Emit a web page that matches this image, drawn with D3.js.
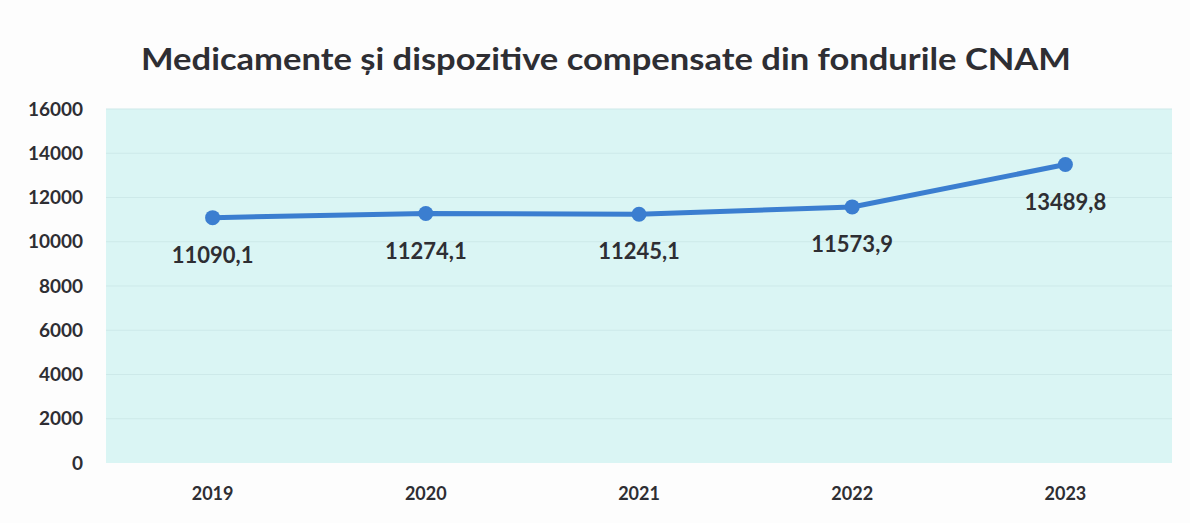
<!DOCTYPE html>
<html>
<head>
<meta charset="utf-8">
<script src="https://cdn.jsdelivr.net/npm/d3@7"></script>
<style>
  body { margin: 0; background: #fdfdfd; }
  text { font-family: Lato, "Open Sans", sans-serif; font-weight: bold; fill: #2e2e33; }
</style>
</head>
<body>
<div id="chart"></div>
<script>
var years = ["2019", "2020", "2021", "2022", "2023"];
var values = [11090.1, 11274.1, 11245.1, 11573.9, 13489.8];
var labels = ["11090,1", "11274,1", "11245,1", "11573,9", "13489,8"];
var yTicks = [0, 2000, 4000, 6000, 8000, 10000, 12000, 14000, 16000];

var width = 1190,
    height = 523;
var margin = { top: 109, right: 18, bottom: 60, left: 106 };

var svg = d3.select("#chart")
  .append("svg")
    .attr("width", width)
    .attr("height", height);

var x = d3.scaleBand()
  .domain(years)
  .range([margin.left, width - margin.right]);

var y = d3.scaleLinear()
  .domain([0, 16000])
  .range([height - margin.bottom, margin.top]);

// plot background
svg.append("rect")
  .attr("x", margin.left)
  .attr("y", margin.top)
  .attr("width", width - margin.left - margin.right)
  .attr("height", height - margin.top - margin.bottom)
  .attr("fill", "#daf5f4");

// faint gridlines
svg.append("g")
  .selectAll("line")
  .data(yTicks.slice(1))
  .enter()
    .append("line")
    .attr("x1", margin.left)
    .attr("x2", width - margin.right)
    .attr("y1", function(d) { return y(d); })
    .attr("y2", function(d) { return y(d); })
    .attr("stroke", "#cde9e9")
    .attr("stroke-width", 1);

// title
svg.append("text")
  .attr("x", 606)
  .attr("y", 70)
  .attr("text-anchor", "middle")
  .attr("font-size", "31px")
  .attr("textLength", 930)
  .attr("lengthAdjust", "spacingAndGlyphs")
  .text("Medicamente și dispozitive compensate din fondurile CNAM");

// y axis
var yAxis = d3.axisLeft(y)
  .tickValues(yTicks)
  .tickFormat(d3.format("d"))
  .tickSize(0)
  .tickPadding(23);

svg.append("g")
  .attr("class", "y-axis")
  .attr("transform", "translate(" + margin.left + ",0)")
  .call(yAxis)
  .call(function(g) { g.select(".domain").remove(); })
  .selectAll(".tick text")
    .attr("font-size", "19px")
    .attr("font-family", "Lato, sans-serif")
    .attr("fill", "#2e2e33");

// x axis
var xAxis = d3.axisBottom(x).tickSize(0).tickPadding(24);

svg.append("g")
  .attr("class", "x-axis")
  .attr("transform", "translate(0," + (height - margin.bottom) + ")")
  .call(xAxis)
  .call(function(g) { g.select(".domain").remove(); })
  .selectAll(".tick text")
    .attr("font-size", "18px")
    .attr("font-family", "Lato, sans-serif")
    .attr("fill", "#2e2e33");

var cx = function(i) { return x(years[i]) + x.bandwidth() / 2; };

// line
var line = d3.line()
  .x(function(d, i) { return cx(i); })
  .y(function(d) { return y(d); });

svg.append("path")
  .datum(values)
  .attr("d", line)
  .attr("fill", "none")
  .attr("stroke", "#3b7ed0")
  .attr("stroke-width", 5)
  .attr("stroke-linejoin", "round");

svg.append("g")
  .selectAll("circle")
  .data(values)
  .enter()
    .append("circle")
    .attr("cx", function(d, i) { return cx(i); })
    .attr("cy", function(d) { return y(d); })
    .attr("r", 7.5)
    .attr("fill", "#3b7ed0");

// data labels
svg.append("g")
  .selectAll("text")
  .data(values)
  .enter()
    .append("text")
    .attr("x", function(d, i) { return cx(i); })
    .attr("y", function(d) { return y(d) + 45; })
    .attr("text-anchor", "middle")
    .attr("font-size", "22px")
    .text(function(d, i) { return labels[i]; });
</script>
</body>
</html>
